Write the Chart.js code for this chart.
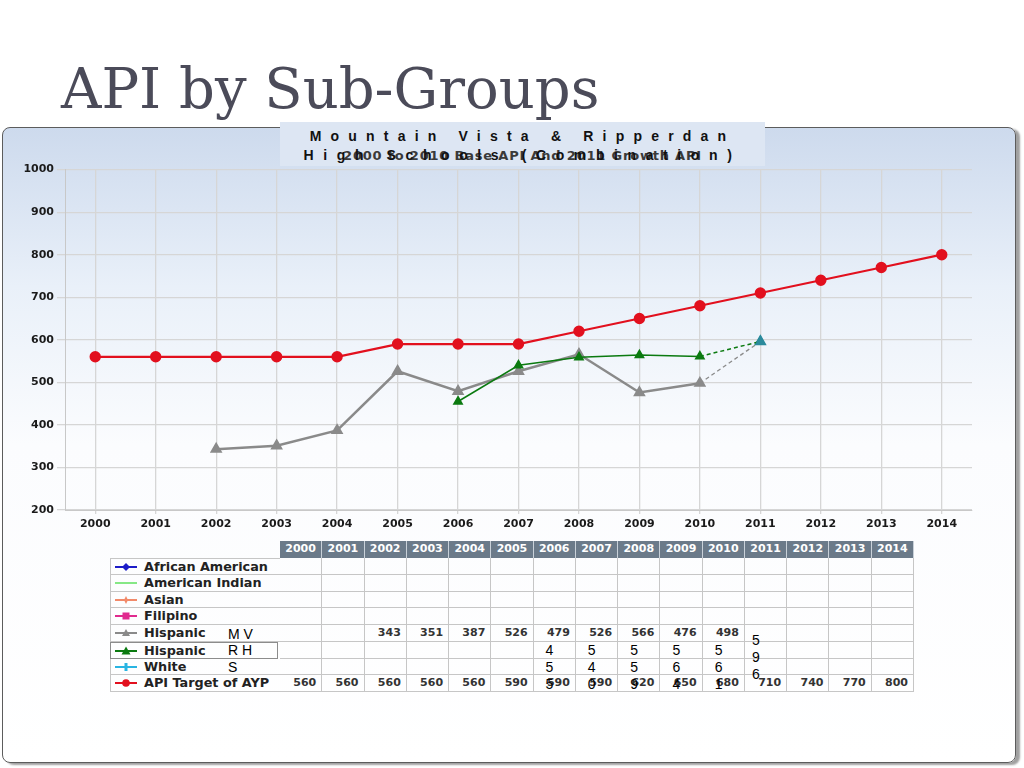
<!DOCTYPE html>
<html><head><meta charset="utf-8">
<script src="https://cdn.jsdelivr.net/npm/chart.js@4.4.0/dist/chart.umd.min.js"></script>
<style>
html,body{margin:0;padding:0;width:1024px;height:768px;overflow:hidden;background:#fff;font-family:'Liberation Sans',Arial,sans-serif;}
#slideTitle{position:absolute;left:61px;top:54px;font-family:'DejaVu Serif',serif;font-size:56px;line-height:70px;color:#4b4b59;white-space:nowrap;letter-spacing:0px;}
#panel{position:absolute;left:2px;top:127px;width:1012px;height:634px;border:1px solid #5c5c5c;border-radius:8px;background:linear-gradient(#cddaed 0%,#e9f0f9 25%,#fbfcfe 50%,#fff 100%);box-shadow:4px 2px 2px #a0a0a0;}
#titleBox{position:absolute;left:280px;top:122px;width:485px;height:44px;background:#dde6f3;}
.tl{position:absolute;left:0;width:485px;text-align:center;font-weight:bold;white-space:nowrap;}
#t1{top:6px;font-size:14px;letter-spacing:9.2px;color:#111;}
#t2b{top:26px;font-family:'DejaVu Sans',sans-serif;font-size:13px;color:#3a3a3a;letter-spacing:0.8px;}
#t2{top:25px;font-size:14px;letter-spacing:9.6px;color:#111;}
#chartWrap{position:absolute;left:0;top:160px;width:1000px;height:380px;}
.cell{position:absolute;box-sizing:border-box;font-family:'DejaVu Sans',sans-serif;font-size:11px;font-weight:bold;color:#333;line-height:16px;white-space:nowrap;}
.hdr{background:#6b7a89;color:#fff;text-align:center;border-right:1px solid #c9d1d9;}
.dat{border-right:1px solid #c6c6c6;border-bottom:1px solid #c6c6c6;text-align:right;padding-right:5px;}
.lab{border-left:1px solid #c6c6c6;border-bottom:1px solid #c6c6c6;padding-left:33px;color:#222;font-size:12.8px;}
.lab svg{position:absolute;left:3px;top:2px;}
.ov{position:absolute;font-size:14px;color:#000;line-height:16px;white-space:nowrap;}
</style></head>
<body>
<div id="slideTitle">API by Sub-Groups</div>
<div id="panel"></div>
<div id="titleBox">
  <div class="tl" id="t2b">2000 to 2010 Base API And 2011 Growth API</div>
  <div class="tl" id="t1">Mountain Vista &amp; Ripperdan</div>
  <div class="tl" id="t2">High Schools (Combination)</div>
</div>
<div id="chartWrap"><canvas id="c" width="1000" height="380"></canvas></div>
<div id="tbl"></div>
<script>
// ---- data ----
const years = ['2000','2001','2002','2003','2004','2005','2006','2007','2008','2009','2010','2011','2012','2013','2014'];
const targetAYP = [560,560,560,560,560,590,590,590,620,650,680,710,740,770,800];
const hispanicMV = [null,null,343,351,387,526,479,526,566,476,498,596,null,null,null];
const hispanicRH = [null,null,null,null,null,null,455,540,559,564,561,596,null,null,null];
const yTicks = [200,300,400,500,600,700,800,900,1000];
const groupNames = ['African American','American Indian','Asian','Filipino','Hispanic','Hispanic','White','API Target of AYP'];
const groupOverlay = ['','','','','M V','R H','S',''];
// ----------------

const RED='#e2101e', GRAY='#8a8a8a', GREEN='#0b7a10', TEAL='#2b8a9c';
const lastIdx = 11;
function ptColors(base, arr){ return arr.map((v,i)=> i===lastIdx ? TEAL : base); }
const tickFont = {family:'DejaVu Sans',size:11,weight:'bold'};

new Chart(document.getElementById('c'), {
  type:'line',
  data:{
    labels: years,
    datasets:[
      {label:'API Target of AYP', data: targetAYP, borderColor:RED, backgroundColor:RED, borderWidth:2.2,
       pointStyle:'circle', pointRadius:4.6, pointBackgroundColor:RED, pointBorderColor:RED, order:1},
      {label:'Hispanic RH', data: hispanicRH, borderColor:GREEN, backgroundColor:GREEN, borderWidth:1.5,
       pointStyle:'triangle', pointRadius:4.8, pointBackgroundColor:ptColors(GREEN,hispanicRH), pointBorderColor:ptColors(GREEN,hispanicRH), order:2,
       segment:{borderDash: ctx => ctx.p1DataIndex===lastIdx ? [4,3] : undefined}},
      {label:'Hispanic MV', data: hispanicMV, borderColor:GRAY, backgroundColor:GRAY, borderWidth:2.5,
       pointStyle:'triangle', pointRadius:4.8, pointBackgroundColor:ptColors(GRAY,hispanicMV), pointBorderColor:ptColors(GRAY,hispanicMV), order:3,
       segment:{borderDash: ctx => ctx.p1DataIndex===lastIdx ? [4,3] : undefined,
                borderWidth: ctx => ctx.p1DataIndex===lastIdx ? 1.3 : undefined}}
    ]
  },
  options:{
    responsive:false, animation:false, devicePixelRatio:1,
    layout:{padding:{top:9,right:28,left:0,bottom:0}},
    plugins:{legend:{display:false}, tooltip:{enabled:false}, title:{display:false}},
    scales:{
      x:{offset:true,
         grid:{color:'#d6d6d6', lineWidth:1.3, tickLength:4, offset:false, borderDash:[1,1]},
         border:{display:true,color:'#c8c8c8',width:1},
         ticks:{color:'#1a1a1a', font:tickFont, padding:4, maxRotation:0, autoSkip:false},
         afterFit: s => { s.height = 30; }},
      y:{min:200,max:1000,
         afterBuildTicks: s => { s.ticks = yTicks.map(v=>({value:v})); },
         grid:{color:'#d6d6d6', lineWidth:1.3, tickLength:8, borderDash:[1,1]},
         border:{display:true,color:'#c8c8c8',width:1},
         ticks:{color:'#1a1a1a', font:tickFont, padding:3, callback: v => String(v)},
         afterFit: s => { s.width = 65; }}
    }
  }
});

// ---- table ----
const tbl = document.getElementById('tbl');
const X0=110, XC=280, CW=(914-280)/15, HY=541, HH=17, RY=558, RH=16.75;
function add(cls, l,t,w,h, html){ const d=document.createElement('div'); d.className='cell '+cls;
  d.style.left=l+'px'; d.style.top=t+'px'; d.style.width=w+'px'; d.style.height=h+'px'; d.innerHTML=html||''; tbl.appendChild(d); return d; }
years.forEach((y,i)=> add('hdr', XC+i*CW, HY, CW, HH, y));
const markers = [
 '<svg width="26" height="12"><line x1="1" y1="6" x2="23" y2="6" stroke="#1c1cc8" stroke-width="2"/><polygon points="12,2 16,6 12,10 8,6" fill="#1c1cc8"/></svg>',
 '<svg width="26" height="12"><line x1="1" y1="6" x2="23" y2="6" stroke="#86e886" stroke-width="2"/></svg>',
 '<svg width="26" height="12"><line x1="1" y1="6" x2="23" y2="6" stroke="#f28a6a" stroke-width="2"/><polygon points="12,2 13.5,5 17,6 13.5,7 12,10 10.5,7 7,6 10.5,5" fill="#f28a6a"/></svg>',
 '<svg width="26" height="12"><line x1="1" y1="6" x2="23" y2="6" stroke="#e02a8e" stroke-width="2"/><rect x="8.5" y="2.5" width="7" height="7" fill="#e02a8e"/></svg>',
 '<svg width="26" height="12"><line x1="1" y1="6" x2="23" y2="6" stroke="#8a8a8a" stroke-width="2"/><polygon points="12,2 16,9 8,9" fill="#8a8a8a"/></svg>',
 '<svg width="26" height="12"><line x1="1" y1="6" x2="23" y2="6" stroke="#0b7a10" stroke-width="2"/><polygon points="12,1.5 16.5,9.5 7.5,9.5" fill="#0b7a10"/></svg>',
 '<svg width="26" height="12"><line x1="1" y1="6" x2="23" y2="6" stroke="#28b4e2" stroke-width="2"/><rect x="10.5" y="2" width="3" height="8" fill="#28b4e2"/></svg>',
 '<svg width="26" height="12"><line x1="1" y1="6" x2="23" y2="6" stroke="#e2101e" stroke-width="2"/><circle cx="12" cy="6" r="3.8" fill="#e2101e"/></svg>'
];
const rowVals = [null,null,null,null, hispanicMV.map((v,i)=> i<lastIdx ? v : null), null, null, targetAYP];
groupNames.forEach((n,r)=>{
  const top = RY + r*RH;
  const lc = add('lab', X0, top, XC-X0, RH, markers[r]+n);
  if(r===5){ lc.style.border='1px solid #8c8c8c'; lc.style.width=(XC-X0-2)+'px'; }
  if(r===0){ lc.style.borderTop='1px solid #c6c6c6'; }
  years.forEach((y,i)=>{
    const v = rowVals[r] ? rowVals[r][i] : null;
    add('dat', XC+i*CW, top, CW, RH, v==null ? '' : String(v));
  });
  if(groupOverlay[r]){ const o=document.createElement('div'); o.className='ov'; o.style.left='228px'; o.style.top=(top+0.5)+'px'; o.textContent=groupOverlay[r]; tbl.appendChild(o); }
});
// vertical digit text boxes for the RH series
hispanicRH.forEach((v,i)=>{
  if(v==null) return;
  const digits = String(v).split('');
  const left = XC + i*CW + (i===lastIdx ? 7 : 12);
  const top0 = i===lastIdx ? 632 : 642;
  digits.forEach((d,k)=>{ const o=document.createElement('div'); o.className='ov';
    o.style.left=left+'px'; o.style.top=(top0+k*17)+'px'; o.textContent=d; tbl.appendChild(o); });
});
</script>
</body></html>
